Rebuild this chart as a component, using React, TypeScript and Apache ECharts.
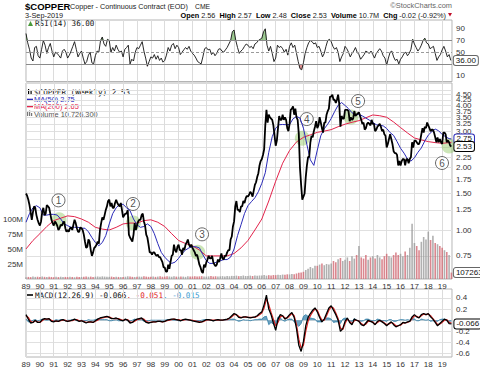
import React, { useEffect, useRef } from "react";
import * as echarts from "echarts";

const START = 1989;
const X_MAX = 2019.71;

// Monthly closes Jan 1989 .. Sep 2019 ($/lb)
const PRICE_MONTHLY = [
  1.50, 1.46, 1.40, 1.32, 1.22, 1.12, 1.22, 1.30, 1.28, 1.18, 1.12, 1.08,
  1.05, 1.10, 1.22, 1.28, 1.18, 1.20, 1.32, 1.30, 1.28, 1.20, 1.12, 1.08,
  1.05, 1.10, 1.08, 1.05, 1.00, 1.02, 1.06, 1.05, 1.08, 1.10, 1.02, 0.98,
  1.00, 0.98, 1.02, 1.03, 1.00, 1.06, 1.12, 1.08, 1.02, 0.98, 0.98, 1.03,
  1.02, 1.00, 0.95, 0.88, 0.82, 0.83, 0.90, 0.88, 0.80, 0.75, 0.78, 0.82,
  0.83, 0.85, 0.88, 0.86, 1.00, 1.08, 1.15, 1.12, 1.18, 1.25, 1.30, 1.38,
  1.40, 1.30, 1.35, 1.28, 1.28, 1.35, 1.40, 1.35, 1.32, 1.30, 1.35, 1.25,
  1.15, 1.18, 1.20, 1.20, 1.25, 0.95, 0.92, 0.90, 0.88, 0.95, 1.08, 1.00,
  1.05, 1.10, 1.12, 1.12, 1.18, 1.20, 1.10, 1.05, 0.95, 0.92, 0.85, 0.78,
  0.78, 0.76, 0.78, 0.78, 0.76, 0.75, 0.76, 0.74, 0.74, 0.72, 0.70, 0.66,
  0.66, 0.63, 0.63, 0.68, 0.65, 0.70, 0.75, 0.76, 0.85, 0.80, 0.78, 0.83,
  0.85, 0.80, 0.80, 0.76, 0.82, 0.80, 0.85, 0.87, 0.90, 0.85, 0.83, 0.85,
  0.82, 0.80, 0.78, 0.75, 0.76, 0.72, 0.68, 0.66, 0.63, 0.62, 0.68, 0.66,
  0.70, 0.72, 0.75, 0.73, 0.73, 0.75, 0.70, 0.68, 0.67, 0.68, 0.72, 0.70,
  0.73, 0.77, 0.73, 0.72, 0.75, 0.75, 0.78, 0.80, 0.80, 0.90, 0.93, 1.04,
  1.10, 1.30, 1.38, 1.25, 1.25, 1.22, 1.30, 1.30, 1.38, 1.35, 1.42, 1.46,
  1.45, 1.48, 1.53, 1.50, 1.45, 1.55, 1.65, 1.70, 1.80, 1.88, 2.05, 2.15,
  2.20, 2.30, 2.45, 3.20, 3.80, 3.30, 3.60, 3.50, 3.45, 3.40, 3.20, 2.85,
  2.55, 2.70, 3.10, 3.55, 3.40, 3.40, 3.60, 3.40, 3.50, 3.40, 3.10, 3.00,
  3.25, 3.80, 3.85, 3.95, 3.60, 3.85, 3.50, 3.40, 2.90, 2.00, 1.65, 1.40,
  1.45, 1.50, 1.80, 2.05, 2.25, 2.25, 2.65, 2.85, 2.80, 3.00, 3.15, 3.35,
  3.10, 3.20, 3.50, 3.30, 3.10, 2.95, 3.30, 3.30, 3.60, 3.75, 3.85, 4.40,
  4.40, 4.50, 4.25, 4.25, 4.10, 4.25, 4.50, 4.05, 3.15, 3.55, 3.45, 3.45,
  3.80, 3.80, 3.80, 3.75, 3.35, 3.50, 3.40, 3.45, 3.75, 3.55, 3.60, 3.65,
  3.70, 3.55, 3.40, 3.25, 3.30, 3.05, 3.10, 3.25, 3.30, 3.25, 3.20, 3.40,
  3.25, 3.25, 3.00, 3.05, 3.15, 3.20, 3.25, 3.15, 3.00, 3.05, 2.90, 2.85,
  2.50, 2.60, 2.75, 2.90, 2.75, 2.60, 2.40, 2.35, 2.35, 2.30, 2.05, 2.15,
  2.05, 2.15, 2.20, 2.20, 2.05, 2.20, 2.20, 2.10, 2.20, 2.25, 2.65, 2.50,
  2.70, 2.70, 2.65, 2.60, 2.60, 2.70, 2.90, 3.10, 2.95, 3.15, 3.10, 3.30,
  3.20, 3.10, 3.00, 3.05, 3.05, 2.95, 2.80, 2.65, 2.80, 2.65, 2.75, 2.65,
  2.60, 2.95, 2.95, 2.90, 2.65, 2.70, 2.65, 2.55, 2.53,
];

// 50-week MA, quarterly readings from 1989.0
const MA50_QUARTERLY = [
  1.09, 1.20, 1.28, 1.31, 1.28, 1.18, 1.18, 1.19, 1.19, 1.18, 1.13, 1.07,
  1.05, 1.03, 1.03, 1.03, 1.02, 1.02, 0.98, 0.92, 0.87, 0.84, 0.87, 0.94,
  1.07, 1.20, 1.28, 1.33, 1.33, 1.28, 1.24, 1.13, 1.06, 1.03, 1.04, 1.07,
  1.04, 0.96, 0.86, 0.78, 0.74, 0.71, 0.69, 0.70, 0.73, 0.77, 0.80, 0.82,
  0.83, 0.83, 0.82, 0.76, 0.71, 0.69, 0.69, 0.70, 0.71, 0.72, 0.72, 0.74,
  0.81, 0.94, 1.06, 1.20, 1.31, 1.37, 1.43, 1.53, 1.68, 1.89, 2.37, 2.82,
  3.10, 3.22, 3.23, 3.22, 3.23, 3.44, 3.53, 3.47, 3.10, 2.58, 2.18, 2.05,
  2.43, 2.85, 3.08, 3.24, 3.45, 3.73, 4.00, 4.12, 3.99, 3.85, 3.68, 3.59,
  3.62, 3.55, 3.47, 3.39, 3.31, 3.22, 3.20, 3.18, 3.09, 2.95, 2.86, 2.67,
  2.48, 2.35, 2.20, 2.15, 2.23, 2.37, 2.49, 2.69, 2.87, 2.98, 3.07, 3.01,
  2.89, 2.82, 2.76, 2.75,
];

// 200-week MA, semi-annual readings from 1989.0
const MA200_SEMIANNUAL = [
  0.81, 0.89, 0.96, 1.04, 1.11, 1.14, 1.17, 1.16, 1.13, 1.09, 1.03, 1.01,
  1.00, 1.03, 1.07, 1.08, 1.08, 1.11, 1.12, 1.09, 1.04, 0.96, 0.89, 0.86,
  0.84, 0.80, 0.75, 0.75, 0.75, 0.75, 0.77, 0.82, 0.89, 1.00, 1.13, 1.38,
  1.72, 2.10, 2.42, 2.66, 2.80, 2.88, 2.96, 3.00, 3.05, 3.15, 3.24, 3.31,
  3.37, 3.48, 3.59, 3.56, 3.50, 3.32, 3.12, 2.94, 2.78, 2.72, 2.67, 2.64,
  2.62, 2.64, 2.65,
];

// RSI(14), 8 readings per year
const RSI_14 = [
  82, 66, 55, 40, 35, 58, 60, 44,
  40, 55, 70, 62, 48, 58, 65, 52,
  42, 50, 48, 44, 40, 52, 55, 50,
  40, 45, 52, 60, 68, 55, 42, 48,
  52, 40, 30, 34, 45, 50, 32, 30,
  44, 52, 50, 70, 76, 64, 60, 72,
  70, 50, 58, 52, 62, 55, 50, 52,
  42, 55, 58, 62, 30, 38, 35, 50,
  58, 56, 62, 68, 52, 40, 26, 34,
  42, 40, 46, 38, 44, 36, 40, 33,
  36, 45, 58, 52, 62, 65, 56, 62,
  58, 46, 50, 54, 58, 55, 60, 52,
  48, 45, 40, 34, 32, 30, 42, 56,
  58, 54, 55, 46, 50, 44, 48, 55,
  56, 52, 50, 54, 58, 64, 70, 85,
  88, 70, 58, 48, 52, 55, 60, 64,
  62, 58, 60, 56, 64, 66, 70, 72,
  74, 85, 90, 62, 52, 60, 48, 34,
  40, 62, 58, 60, 56, 50, 55, 45,
  60, 66, 58, 62, 48, 34, 22, 20,
  32, 48, 58, 66, 70, 68, 64, 66,
  58, 60, 52, 42, 48, 60, 70, 72,
  68, 60, 55, 58, 50, 34, 42, 48,
  60, 56, 50, 42, 48, 52, 58, 50,
  46, 38, 42, 46, 52, 50, 48, 52,
  46, 40, 48, 52, 56, 52, 44, 40,
  28, 40, 50, 52, 42, 36, 38, 30,
  38, 42, 48, 50, 44, 48, 55, 72,
  64, 58, 52, 56, 62, 70, 74, 66,
  64, 56, 58, 60, 48, 36, 42, 46,
  54, 60, 52, 42, 46, 36,
];

// MACD(12,26,9), 6 readings per year
const MACD_LINE = [
  0.10, 0.02, -0.05, -0.04, 0.00, -0.04,
  -0.04, 0.01, 0.03, 0.02, 0.03, -0.02,
  -0.03, -0.01, -0.02, 0.00, 0.01, -0.01,
  -0.02, -0.01, 0.00, 0.02, 0.00, -0.02,
  -0.01, -0.03, -0.05, -0.03, -0.03, -0.04,
  -0.01, 0.02, 0.04, 0.05, 0.06, 0.07,
  0.05, 0.03, 0.03, 0.04, 0.02, 0.00,
  -0.01, 0.02, 0.00, -0.05, -0.04, 0.00,
  0.02, 0.03, 0.04, 0.00, -0.04, -0.05,
  -0.04, -0.03, -0.03, -0.02, -0.02, -0.03,
  -0.02, 0.00, 0.01, 0.02, 0.02, 0.01,
  0.00, -0.01, 0.01, 0.02, 0.01, 0.00,
  -0.01, -0.02, -0.03, -0.04, -0.03, -0.01,
  0.01, 0.01, 0.00, -0.01, 0.00, 0.01,
  0.00, 0.00, 0.01, 0.02, 0.04, 0.08,
  0.12, 0.10, 0.05, 0.04, 0.06, 0.06,
  0.05, 0.04, 0.05, 0.06, 0.08, 0.12,
  0.15, 0.28, 0.45, 0.20, 0.10, -0.05,
  -0.18, 0.02, 0.10, 0.08, 0.02, 0.05,
  0.10, 0.14, 0.05, -0.15, -0.45, -0.56,
  -0.38, -0.10, 0.05, 0.12, 0.18, 0.22,
  0.15, 0.05, -0.03, 0.02, 0.12, 0.22,
  0.26, 0.18, 0.10, 0.00, -0.20, -0.15,
  -0.02, 0.04, -0.04, -0.08, 0.02, 0.00,
  -0.02, -0.08, -0.10, -0.05, 0.00, -0.02,
  -0.04, -0.08, -0.02, 0.00, -0.03, -0.06,
  -0.10, -0.06, -0.03, -0.08, -0.12, -0.10,
  -0.08, -0.04, -0.05, -0.03, -0.02, 0.06,
  0.10, 0.06, 0.04, 0.10, 0.12, 0.10,
  0.12, 0.06, 0.02, -0.04, -0.10, -0.06,
  -0.02, 0.02, 0.00, -0.06, -0.066,
];

const MACD_SIGNAL = [
  0.08, 0.05, -0.02, -0.04, -0.01, -0.03,
  -0.04, -0.01, 0.02, 0.02, 0.02, 0.00,
  -0.02, -0.02, -0.02, -0.01, 0.00, 0.00,
  -0.02, -0.01, -0.01, 0.01, 0.01, -0.01,
  -0.01, -0.02, -0.04, -0.04, -0.03, -0.04,
  -0.02, 0.00, 0.03, 0.04, 0.05, 0.06,
  0.06, 0.04, 0.03, 0.03, 0.03, 0.01,
  0.00, 0.01, 0.01, -0.03, -0.04, -0.02,
  0.01, 0.02, 0.03, 0.02, -0.02, -0.04,
  -0.04, -0.03, -0.03, -0.02, -0.02, -0.03,
  -0.02, -0.01, 0.00, 0.01, 0.02, 0.01,
  0.01, 0.00, 0.00, 0.01, 0.01, 0.00,
  0.00, -0.01, -0.02, -0.03, -0.03, -0.02,
  0.00, 0.01, 0.00, 0.00, 0.00, 0.00,
  0.00, 0.00, 0.01, 0.01, 0.03, 0.06,
  0.10, 0.10, 0.07, 0.05, 0.05, 0.06,
  0.05, 0.05, 0.05, 0.05, 0.07, 0.10,
  0.13, 0.22, 0.38, 0.28, 0.14, 0.02,
  -0.10, -0.04, 0.06, 0.08, 0.04, 0.04,
  0.08, 0.12, 0.08, -0.08, -0.34, -0.50,
  -0.45, -0.20, -0.02, 0.08, 0.15, 0.20,
  0.18, 0.08, 0.00, 0.00, 0.08, 0.18,
  0.24, 0.22, 0.13, 0.03, -0.14, -0.17,
  -0.06, 0.02, -0.02, -0.06, -0.01, 0.00,
  -0.01, -0.06, -0.09, -0.07, -0.02, -0.02,
  -0.03, -0.07, -0.04, -0.01, -0.02, -0.05,
  -0.08, -0.07, -0.04, -0.06, -0.10, -0.10,
  -0.09, -0.05, -0.05, -0.04, -0.02, 0.03,
  0.08, 0.07, 0.05, 0.08, 0.11, 0.10,
  0.11, 0.08, 0.03, -0.02, -0.08, -0.07,
  -0.04, 0.00, 0.01, -0.04, -0.051,
];

// Volume in millions, 6 readings per year
const VOLUME_M = [
  3.0, 3.5, 3.2, 4.0, 3.5, 3.8,
  3.5, 4.0, 3.6, 3.2, 3.8, 3.4,
  3.0, 3.6, 3.2, 3.8, 3.3, 3.5,
  3.2, 3.8, 3.4, 3.0, 3.6, 3.3,
  3.5, 3.8, 4.2, 3.6, 4.0, 3.5,
  3.8, 4.2, 3.6, 4.4, 4.0, 3.7,
  3.6, 4.0, 3.4, 3.8, 3.5, 3.2,
  3.4, 3.8, 4.5, 4.2, 3.6, 3.4,
  3.6, 4.0, 3.8, 4.4, 4.0, 3.6,
  3.8, 4.2, 3.6, 4.0, 4.4, 3.8,
  4.0, 4.6, 4.2, 3.8, 4.4, 4.0,
  3.8, 4.2, 4.0, 3.6, 4.4, 4.0,
  4.2, 4.6, 4.0, 4.4, 4.8, 4.2,
  4.0, 4.4, 4.8, 4.2, 4.6, 4.0,
  4.4, 4.8, 4.2, 5.0, 4.6, 5.2,
  5.0, 5.6, 4.8, 5.2, 5.8, 5.0,
  5.2, 5.6, 5.0, 6.0, 5.4, 5.8,
  6.0, 6.8, 5.6, 6.4, 6.0, 6.6,
  6.4, 7.0, 6.6, 7.4, 7.0, 7.8,
  7.6, 8.4, 8.0, 9.2, 10.5, 11.0,
  12, 15, 17, 20, 18, 22,
  22, 24, 26, 23, 25, 24,
  26, 30, 28, 33, 35, 30,
  32, 36, 30, 38, 34, 40,
  55, 36, 34, 40, 32, 36,
  38, 34, 40, 36, 33, 38,
  42, 38, 36, 40, 44, 40,
  42, 38, 46, 40, 52, 92,
  60, 55, 48, 62, 70, 66,
  79, 65, 72, 60, 58, 55,
  52, 48, 45, 40, 10.7263,
];

const PRICE_GRID_TICKS = [0.75, 1, 1.25, 1.5, 1.75, 2, 2.25, 2.5, 2.75, 3, 3.25, 3.5, 3.75, 4, 4.25, 4.5, 4.75];
const PRICE_LABEL_TICKS = [0.75, 1, 1.25, 1.5, 1.75, 2, 2.25, 3, 3.25, 3.5, 3.75, 4, 4.25, 4.5, 4.75];
const VOLUME_TICKS = [25, 50, 75, 100];
const RSI_TICKS = [10, 50, 70, 90];
const MACD_GRID_TICKS = [-0.6, -0.4, -0.2, 0, 0.2, 0.4];
const MACD_LABEL_TICKS = [-0.6, -0.4, -0.2, 0.2, 0.4];

const ANNOT_LABELS = ["1", "2", "3", "4", "5", "6"];
const ANNOT_CROSS_YEAR = [1991.38, 1996.74, 2001.38, 2008.92, 2012.43, 2019.5];
const ANNOT_CROSS_PRICE = [1.12, 1.08, 0.78, 2.77, 3.51, 2.54];
const ANNOT_TAG_YEAR = [1991.34, 1996.71, 2001.69, 2009.24, 2012.94, 2018.99];
const ANNOT_TAG_PRICE = [1.39, 1.335, 0.953, 3.43, 4.19, 2.105];

const HEADER = { open: 2.56, high: 2.57, low: 2.48, close: 2.53, chg: -0.02, chgPct: -0.92 };

const MONO = '"DejaVu Sans Mono", monospace';
const SANS = '"Liberation Sans", Arial, sans-serif';

export default function App() {
  const ref = useRef<HTMLDivElement>(null);

  useEffect(() => {
    document.body.style.margin = "0";
    const el = ref.current;
    if (!el) return;
    const chart = echarts.init(el, null, { renderer: "svg" });

    const ln = Math.log;
    const lastT = START + (PRICE_MONTHLY.length - 1) / 12;
    const priceData = PRICE_MONTHLY.map((p, i) => [START + i / 12, ln(p)]);
    const ma50Data = MA50_QUARTERLY.map((p, i) => [Math.min(START + i * 0.25, lastT), ln(p)]);
    const ma200Data = MA200_SEMIANNUAL.map((p, i) => [Math.min(START + i * 0.5, lastT), ln(p)]);
    const rsiData = RSI_14.map((v, i) => [START + i / 8, v]);
    const rsiHigh = RSI_14.map((v, i) => [START + i / 8, Math.max(v, 70)]);
    const rsiLow = RSI_14.map((v, i) => [START + i / 8, Math.min(v, 30)]);
    const macdData = MACD_LINE.map((v, i) => [START + i / 6, v]);
    const sigData = MACD_SIGNAL.map((v, i) => [START + i / 6, v]);
    const histData = MACD_LINE.map((v, i) => [START + i / 6, v - MACD_SIGNAL[i]]);
    const volData = VOLUME_M.map((v, i) => {
      const m = Math.min(i * 2, PRICE_MONTHLY.length - 1);
      const prev = Math.max(m - 2, 0);
      const up = PRICE_MONTHLY[m] >= PRICE_MONTHLY[prev];
      return {
        value: [START + i / 6, v],
        itemStyle: { color: up ? "rgba(150,150,150,0.75)" : "rgba(205,95,105,0.75)" },
      };
    });

    const lastClose = PRICE_MONTHLY[PRICE_MONTHLY.length - 1];
    const lastMa50 = MA50_QUARTERLY[MA50_QUARTERLY.length - 1];
    const lastMa200 = MA200_SEMIANNUAL[MA200_SEMIANNUAL.length - 1];
    const lastRsi = RSI_14[RSI_14.length - 1];
    const lastMacd = MACD_LINE[MACD_LINE.length - 1];
    const lastSig = MACD_SIGNAL[MACD_SIGNAL.length - 1];
    const lastHist = lastMacd - lastSig;
    const lastVol = Math.round(VOLUME_M[VOLUME_M.length - 1] * 1e6);

    const box = (border: string) => ({
      backgroundColor: "#fff",
      borderColor: border,
      borderWidth: 1,
      borderRadius: 2,
      padding: [1, 2, 0, 2],
      fontSize: 8,
      color: "#111",
      fontFamily: SANS,
    });

    const xAxis = (gridIndex: number, showLabels: boolean) => ({
      type: "value",
      gridIndex,
      min: START,
      max: X_MAX,
      interval: 1,
      axisLine: { show: false },
      axisTick: { show: false },
      splitLine: { show: true, lineStyle: { color: "#dcdcdc", width: 1 } },
      axisLabel: {
        show: showLabels,
        fontSize: 8,
        color: "#333",
        margin: 3,
        fontFamily: SANS,
        formatter: (v: number) => (Number.isInteger(v) ? String(v % 100).padStart(2, "0") : ""),
      },
    });

    const rightLabel = { fontSize: 8, color: "#333", margin: 4, fontFamily: SANS };

    const option: any = {
      animation: false,
      textStyle: { fontFamily: SANS },
      grid: [
        { left: 26, top: 20, width: 426, height: 61.5, show: true, borderColor: "#b4b4b4", borderWidth: 1, backgroundColor: "#fff" },
        { left: 26, top: 83, width: 426, height: 196, show: true, borderColor: "#b4b4b4", borderWidth: 1, backgroundColor: "#fff" },
        { left: 26, top: 289, width: 426, height: 68, show: true, borderColor: "#b4b4b4", borderWidth: 1, backgroundColor: "#fff" },
      ],
      xAxis: [xAxis(0, false), xAxis(1, true), xAxis(2, true)],
      yAxis: [
        {
          type: "value", gridIndex: 0, min: 0, max: 105, position: "right",
          axisLine: { show: false }, axisTick: { show: false }, splitLine: { show: false },
          axisLabel: { ...rightLabel, customValues: RSI_TICKS },
        },
        {
          type: "value", gridIndex: 1, min: -0.5444, max: 1.6333, position: "right",
          axisLine: { show: false },
          axisTick: { show: false, customValues: PRICE_GRID_TICKS.map(ln) },
          splitLine: { show: true, lineStyle: { color: "#e0e0e0" } },
          axisLabel: {
            ...rightLabel,
            customValues: PRICE_LABEL_TICKS.map(ln),
            formatter: (v: number) => Math.exp(v).toFixed(2),
          },
        },
        {
          type: "value", gridIndex: 1, min: 0, max: 326.7, position: "left",
          axisLine: { show: false }, axisTick: { show: false }, splitLine: { show: false },
          axisLabel: { fontSize: 8, color: "#333", margin: 3, fontFamily: SANS, customValues: VOLUME_TICKS, formatter: (v: number) => `${v}M` },
        },
        {
          type: "value", gridIndex: 2, min: -0.66, max: 0.56, position: "right",
          axisLine: { show: false },
          axisTick: { show: false, customValues: MACD_GRID_TICKS },
          splitLine: { show: true, lineStyle: { color: "#e0e0e0" } },
          axisLabel: { ...rightLabel, customValues: MACD_LABEL_TICKS, formatter: (v: number) => v.toFixed(1) },
        },
      ],
      series: [
        {
          name: "Volume", type: "bar", xAxisIndex: 1, yAxisIndex: 2, data: volData, barWidth: 1.6,
          silent: true,
          markPoint: {
            silent: true,
            symbol: "rect", symbolSize: 1, itemStyle: { color: "rgba(0,0,0,0)" },
            data: [{
              coord: [lastT, VOLUME_M[VOLUME_M.length - 1]],
              label: { show: true, position: "right", distance: 2, formatter: String(lastVol), ...box("#666") },
            }],
          },
        },
        {
          name: "MA200", type: "line", xAxisIndex: 1, yAxisIndex: 1, data: ma200Data, showSymbol: false,
          lineStyle: { color: "#e3234b", width: 1 }, silent: true,
        },
        {
          name: "MA50", type: "line", xAxisIndex: 1, yAxisIndex: 1, data: ma50Data, showSymbol: false,
          lineStyle: { color: "#2a2ab8", width: 1 }, silent: true,
          endLabel: { show: true, distance: 3, formatter: () => lastMa50.toFixed(2), ...box("#2a2ab8") },
        },
        {
          name: "Price", type: "line", xAxisIndex: 1, yAxisIndex: 1, data: priceData, showSymbol: false,
          lineStyle: { color: "#000", width: 1.8 }, silent: true,
          endLabel: { show: true, distance: 3, formatter: () => lastClose.toFixed(2), ...box("#000") },
        },
        {
          name: "Crossovers", type: "scatter", xAxisIndex: 1, yAxisIndex: 1,
          data: ANNOT_CROSS_YEAR.map((y, i) => [y, ln(ANNOT_CROSS_PRICE[i])]),
          symbolSize: 15, itemStyle: { color: "rgba(140,195,90,0.55)" }, silent: true,
        },
        {
          name: "Tags", type: "scatter", xAxisIndex: 1, yAxisIndex: 1,
          data: ANNOT_TAG_YEAR.map((y, i) => ({ value: [y, ln(ANNOT_TAG_PRICE[i])], name: ANNOT_LABELS[i] })),
          symbolSize: 13, itemStyle: { color: "#fff", borderColor: "#444", borderWidth: 1 }, silent: true,
          label: { show: true, position: "inside", formatter: (p: any) => p.name, fontSize: 10, color: "#222", fontFamily: SANS },
        },
        {
          name: "RSI>70", type: "line", xAxisIndex: 0, yAxisIndex: 0, data: rsiHigh, showSymbol: false,
          lineStyle: { width: 0, opacity: 0 }, areaStyle: { origin: 70, color: "rgba(80,160,60,0.8)" }, silent: true,
        },
        {
          name: "RSI<30", type: "line", xAxisIndex: 0, yAxisIndex: 0, data: rsiLow, showSymbol: false,
          lineStyle: { width: 0, opacity: 0 }, areaStyle: { origin: 30, color: "rgba(200,60,60,0.8)" }, silent: true,
        },
        {
          name: "RSI", type: "line", xAxisIndex: 0, yAxisIndex: 0, data: rsiData, showSymbol: false,
          lineStyle: { color: "#111", width: 0.9 }, silent: true,
          endLabel: { show: true, distance: 3, formatter: () => lastRsi.toFixed(2), ...box("#666") },
          markLine: {
            silent: true, symbol: "none", label: { show: false },
            data: [
              { yAxis: 70, lineStyle: { color: "#8a8a8a", width: 1, type: "solid" } },
              { yAxis: 30, lineStyle: { color: "#8a8a8a", width: 1, type: "solid" } },
              { yAxis: 50, lineStyle: { color: "#9a9a9a", width: 1, type: [3, 2] } },
            ],
          },
        },
        {
          name: "Histogram", type: "line", xAxisIndex: 2, yAxisIndex: 3, data: histData, showSymbol: false,
          lineStyle: { color: "#2e7ca6", width: 0.8 }, areaStyle: { origin: 0, color: "#2e7ca6" }, silent: true,
        },
        {
          name: "Signal", type: "line", xAxisIndex: 2, yAxisIndex: 3, data: sigData, showSymbol: false,
          lineStyle: { color: "#e02424", width: 1.2 }, silent: true,
        },
        {
          name: "MACD", type: "line", xAxisIndex: 2, yAxisIndex: 3, data: macdData, showSymbol: false,
          lineStyle: { color: "#000", width: 1.3 }, silent: true,
          endLabel: { show: true, distance: 3, formatter: () => lastMacd.toFixed(3), ...box("#000") },
        },
      ],
      graphic: [
        { type: "text", x: 25, y: 6, style: { text: "$COPPER", fontSize: 9.5, fontWeight: "bold", fontFamily: SANS, fill: "#000", verticalAlign: "middle", textVerticalAlign: "middle" } },
        { type: "text", x: 70, y: 6.5, style: { text: "Copper - Continuous Contract (EOD)", fontSize: 7.2, fontFamily: SANS, fill: "#222", verticalAlign: "middle", textVerticalAlign: "middle" } },
        { type: "text", x: 195, y: 6.5, style: { text: "CME", fontSize: 6.8, fontFamily: SANS, fill: "#222", verticalAlign: "middle", textVerticalAlign: "middle" } },
        { type: "text", x: 452, y: 5, style: { text: "\u00A9StockCharts.com", fontSize: 7.4, fontFamily: SANS, fill: "#666", align: "right", textAlign: "right", verticalAlign: "middle", textVerticalAlign: "middle" } },
        { type: "text", x: 25, y: 15, style: { text: "3-Sep-2019", fontSize: 7.3, fontFamily: SANS, fill: "#222", verticalAlign: "middle", textVerticalAlign: "middle" } },
        {
          type: "text", x: 446, y: 15,
          style: {
            text: `{b|Open} ${HEADER.open.toFixed(2)}  {b|High} ${HEADER.high.toFixed(2)}  {b|Low} ${HEADER.low.toFixed(2)}  {b|Close} ${HEADER.close.toFixed(2)}  {b|Volume} ${(lastVol / 1e6).toFixed(1)}M  {b|Chg} ${HEADER.chg.toFixed(2)} (${HEADER.chgPct.toFixed(2)}%)`,
            rich: { b: { fontWeight: "bold", fontSize: 7.3, fontFamily: SANS, fill: "#000" } },
            fontSize: 7.3, fontFamily: SANS, fill: "#222", align: "right", textAlign: "right", verticalAlign: "middle", textVerticalAlign: "middle",
          },
        },
        { type: "polygon", shape: { points: [[448, 13], [452, 13], [450, 16.5]] }, style: { fill: "#c0102a" } },
        // RSI legend
        { type: "polygon", shape: { points: [[28, 26], [30.5, 21], [33, 26]] }, style: { fill: "#4a9a3a" } },
        { type: "text", x: 35, y: 23.5, style: { text: `RSI(14) ${lastRsi.toFixed(2)}`, fontSize: 7.6, fontFamily: MONO, fill: "#111", verticalAlign: "middle", textVerticalAlign: "middle" } },
        // Main legend
        { type: "rect", shape: { x: 28, y: 89, width: 1.2, height: 6 }, style: { fill: "#000" } },
        { type: "rect", shape: { x: 30.5, y: 90, width: 1.2, height: 4 }, style: { fill: "#000" } },
        { type: "text", x: 34, y: 92, style: { text: `$COPPER (Weekly) ${lastClose.toFixed(2)}`, fontSize: 7.6, fontFamily: MONO, fill: "#111", verticalAlign: "middle", textVerticalAlign: "middle" } },
        { type: "line", shape: { x1: 27, y1: 99.5, x2: 33, y2: 99.5 }, style: { stroke: "#2a2ab8", lineWidth: 1.6 } },
        { type: "text", x: 34, y: 99.5, style: { text: `MA(50) ${lastMa50.toFixed(2)}`, fontSize: 7.4, fontFamily: SANS, fill: "#2a2ab8", verticalAlign: "middle", textVerticalAlign: "middle" } },
        { type: "line", shape: { x1: 27, y1: 106.5, x2: 33, y2: 106.5 }, style: { stroke: "#e3234b", lineWidth: 1.6 } },
        { type: "text", x: 34, y: 106.5, style: { text: `MA(200) ${lastMa200.toFixed(2)}`, fontSize: 7.4, fontFamily: SANS, fill: "#e3234b", verticalAlign: "middle", textVerticalAlign: "middle" } },
        { type: "rect", shape: { x: 27, y: 112, width: 1.2, height: 4 }, style: { fill: "#777" } },
        { type: "rect", shape: { x: 29, y: 110.5, width: 1.2, height: 5.5 }, style: { fill: "#777" } },
        { type: "rect", shape: { x: 31, y: 113, width: 1.2, height: 3 }, style: { fill: "#777" } },
        { type: "text", x: 34, y: 114, style: { text: `Volume ${lastVol.toLocaleString("en-US")}`, fontSize: 7.4, fontFamily: SANS, fill: "#555", verticalAlign: "middle", textVerticalAlign: "middle" } },
        // MACD legend
        { type: "line", shape: { x1: 27, y1: 295, x2: 33, y2: 295 }, style: { stroke: "#000", lineWidth: 1.6 } },
        {
          type: "text", x: 35, y: 295,
          style: {
            text: `MACD(12,26,9) ${lastMacd.toFixed(3)}{r|, ${lastSig.toFixed(3)}}{c|, ${lastHist.toFixed(3)}}`,
            rich: {
              r: { fill: "#e02424", fontSize: 7.6, fontFamily: MONO },
              c: { fill: "#3a9ad0", fontSize: 7.6, fontFamily: MONO },
            },
            fontSize: 7.6, fontFamily: MONO, fill: "#111", verticalAlign: "middle", textVerticalAlign: "middle",
          },
        },
      ],
    };

    chart.setOption(option);
    return () => chart.dispose();
  }, []);

  return <div ref={ref} style={{ width: 480, height: 370 }} />;
}
